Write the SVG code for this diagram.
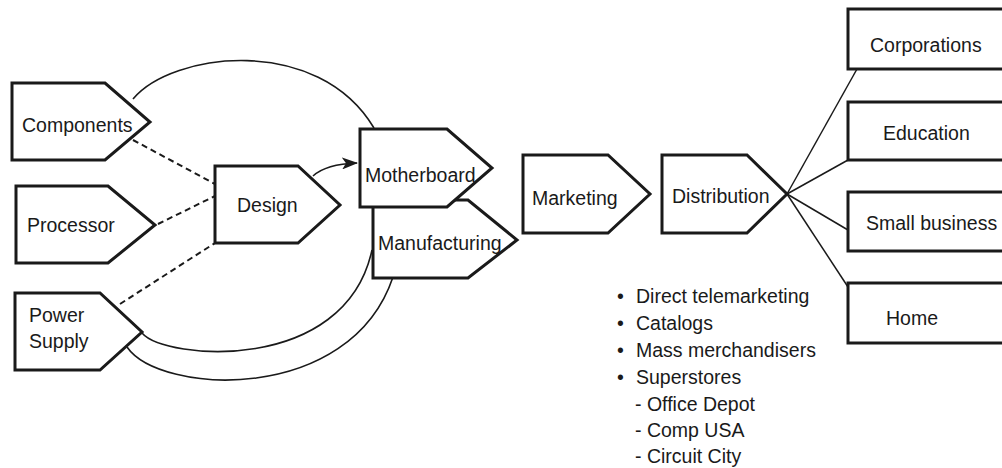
<svg xmlns="http://www.w3.org/2000/svg" width="1002" height="468" viewBox="0 0 1002 468">
  <style>
    .node { fill: #fff; stroke: #1a1a1a; stroke-width: 3; stroke-linejoin: miter; }
    .lbl { font-family: "Liberation Sans", Arial, sans-serif; font-size: 19.5px; fill: #1a1a1a; }
    .arc { fill: none; stroke: #1a1a1a; stroke-width: 1.6; }
    .dash { fill: none; stroke: #1a1a1a; stroke-width: 2; stroke-dasharray: 6 4; }
    .thin { fill: none; stroke: #1a1a1a; stroke-width: 1.5; }
  </style>
  <defs>
    <marker id="arrowHead" viewBox="0 0 16 12" refX="15" refY="6" markerWidth="16" markerHeight="12" markerUnits="userSpaceOnUse" orient="auto">
      <path d="M0,0 L16,6 L0,12 L4,6 Z" fill="#1a1a1a"/>
    </marker>
  </defs>
  <rect width="1002" height="468" fill="#fff"/>

  <g id="connectors">
    <!-- loop arcs around the design/production core -->
    <path class="arc" d="M133,99 C172,52 318,34 374,128"/>
    <path class="arc" d="M142,333 C165,360 345,375 372,250"/>
    <path class="arc" d="M127,347 C160,395 350,405 393,277"/>
    <!-- inputs into Design -->
    <path class="dash" d="M133,140 L215,184"/>
    <path class="dash" d="M158,224 L215,196"/>
    <path class="dash" d="M120,304 L215,243"/>
    <!-- Design to Motherboard -->
    <path class="arc" stroke-width="2" d="M313,176 Q326,164 357,163" marker-end="url(#arrowHead)"/>
    <!-- Distribution fan-out to markets -->
    <path class="thin" d="M787,194 L857,69"/>
    <path class="thin" d="M787,194 L848,160"/>
    <path class="thin" d="M787,194 L848,230"/>
    <path class="thin" d="M787,194 L848,287"/>
  </g>

  <g id="components">
    <path class="node" d="M12,83 L105,83 L150,122 L105,160 L12,160 Z"/>
    <text class="lbl" x="22" y="132">Components</text>
  </g>
  <g id="processor">
    <path class="node" d="M16,186 L108,186 L155,225 L108,263 L16,263 Z"/>
    <text class="lbl" x="27" y="232">Processor</text>
  </g>
  <g id="power-supply">
    <path class="node" d="M15,293 L100,293 L142,332 L100,370 L15,370 Z"/>
    <text class="lbl" x="29" y="322">Power</text>
    <text class="lbl" x="29" y="348">Supply</text>
  </g>
  <g id="design">
    <path class="node" d="M215,166 L298,166 L340,205 L298,243 L215,243 Z"/>
    <text class="lbl" x="237" y="212">Design</text>
  </g>
  <g id="manufacturing">
    <path class="node" d="M373,200 L468,200 L517,240 L468,278 L373,278 Z"/>
    <text class="lbl" x="378" y="250">Manufacturing</text>
  </g>
  <g id="motherboard">
    <path class="node" d="M360,129 L447,129 L492,168 L447,207 L360,207 Z"/>
    <text class="lbl" x="365" y="182">Motherboard</text>
  </g>
  <g id="marketing">
    <path class="node" d="M523,155 L608,155 L650,194 L608,233 L523,233 Z"/>
    <text class="lbl" x="532" y="205">Marketing</text>
  </g>
  <g id="distribution">
    <path class="node" d="M662,155 L747,155 L787,194 L747,233 L662,233 Z"/>
    <text class="lbl" x="672" y="203">Distribution</text>
  </g>

  <g id="corporations">
    <rect class="node" x="848" y="9" width="170" height="60"/>
    <text class="lbl" x="870" y="52">Corporations</text>
  </g>
  <g id="education">
    <rect class="node" x="848" y="102" width="170" height="58"/>
    <text class="lbl" x="883" y="140">Education</text>
  </g>
  <g id="small-business">
    <rect class="node" x="848" y="192" width="170" height="59"/>
    <text class="lbl" x="866" y="230">Small business</text>
  </g>
  <g id="home">
    <rect class="node" x="848" y="283" width="170" height="60"/>
    <text class="lbl" x="886" y="325">Home</text>
  </g>

  <g id="channels">
    <text class="lbl" x="617" y="303">•</text>
    <text class="lbl" x="636" y="303">Direct telemarketing</text>
    <text class="lbl" x="617" y="330">•</text>
    <text class="lbl" x="636" y="330">Catalogs</text>
    <text class="lbl" x="617" y="357">•</text>
    <text class="lbl" x="636" y="357">Mass merchandisers</text>
    <text class="lbl" x="617" y="384">•</text>
    <text class="lbl" x="636" y="384">Superstores</text>
    <text class="lbl" x="635" y="411">- Office Depot</text>
    <text class="lbl" x="635" y="437">- Comp USA</text>
    <text class="lbl" x="635" y="463">- Circuit City</text>
  </g>
</svg>
